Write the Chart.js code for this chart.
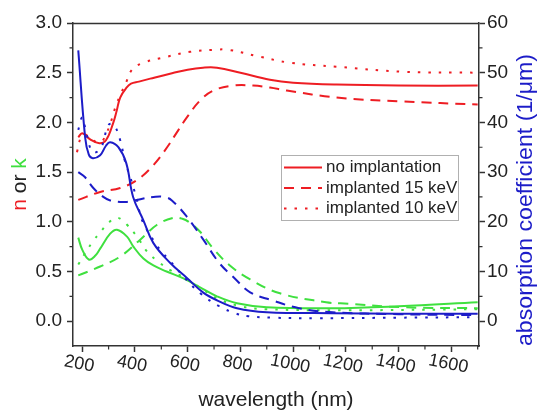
<!DOCTYPE html>
<html><head><meta charset="utf-8">
<script src="https://cdn.jsdelivr.net/npm/chart.js@4/dist/chart.umd.min.js"></script>
<style>html,body{margin:0;padding:0;background:#fff}canvas{display:block}</style>
</head><body>
<canvas id="c" width="538" height="412"></canvas>
<script>
// ---- data (wavelength in nm) ----
const legendLabels = ['no implantation', 'implanted 15 keV', 'implanted 10 keV'];
const xTickValues = [200, 400, 600, 800, 1000, 1200, 1400, 1600];

// refractive index n (left axis)
const nNoneWl = [185,200,230,265,290,317,331,344,368,385,415,458,533,600,658,711,800,912,1000,1165,1400,1700];
const nNoneVal = [1.85,1.89,1.83,1.79,1.82,1.99,2.12,2.25,2.35,2.39,2.41,2.44,2.49,2.53,2.55,2.55,2.50,2.43,2.40,2.38,2.37,2.37];
const n15Wl = [185,268,344,408,470,522,564,597,647,697,773,848,912,976,1165,1416,1700];
const n15Val = [1.22,1.30,1.34,1.42,1.57,1.75,1.92,2.05,2.22,2.32,2.37,2.37,2.35,2.32,2.25,2.21,2.18];
const n10Wl = [180,195,210,240,270,290,308,328,347,366,389,432,520,609,697,755,875,988,1165,1416,1700];
const n10Val = [1.70,1.85,1.88,1.82,1.80,1.88,2.00,2.17,2.29,2.40,2.53,2.60,2.66,2.71,2.73,2.73,2.66,2.60,2.56,2.51,2.50];

// extinction coefficient k (left axis)
const kNoneWl = [185,200,225,250,268,306,332,370,394,432,470,520,584,647,711,787,900,1150,1400,1700];
const kNoneVal = [0.84,0.72,0.62,0.66,0.73,0.88,0.92,0.85,0.75,0.63,0.56,0.50,0.43,0.34,0.25,0.18,0.14,0.13,0.15,0.19];
const k15Wl = [185,268,344,420,484,545,580,609,647,697,760,837,950,1125,1180,1416,1700];
const k15Val = [0.46,0.55,0.65,0.82,0.97,1.04,1.03,0.99,0.90,0.73,0.56,0.42,0.28,0.19,0.18,0.14,0.13];
const k10Wl = [185,210,240,270,300,329,350,370,408,446,488,530,600,650,720,800,900,1200,1700];
const k10Val = [0.57,0.68,0.80,0.90,0.99,1.04,1.02,0.97,0.85,0.70,0.60,0.52,0.42,0.33,0.22,0.15,0.12,0.11,0.12];

// absorption coefficient (right axis, 1/µm)
const aNoneWl = [185,211,225,240,268,290,306,337,367,393,432,470,534,597,658,711,787,900,1150,1400,1700];
const aNoneVal = [54.5,37,33.5,32.8,33.4,35.3,36.0,35.0,31.8,25,20.3,15.7,11.7,8.7,5.8,4.2,2.6,1.8,1.6,1.5,1.5];
const a15Wl = [185,210,242,280,306,370,432,470,510,540,597,658,720,773,837,920,1023,1150,1400,1700];
const a15Val = [30,29,26.8,25,24.3,24,24.7,25,25,24.3,21,16.5,11.7,8.9,5.8,4.2,2.6,1.8,1.4,1.2];
const a10Wl = [185,200,215,240,270,300,320,344,363,382,408,427,477,503,530,556,585,650,720,780,830,920,1100,1400,1700];
const a10Val = [38.5,41,38,34,34.8,39.5,39.5,36.4,32,29,24.3,20.3,15.7,13.9,12.3,10.7,8.9,5.5,3.0,1.6,1.0,0.7,0.6,0.7,0.8];

// ---- styling ----
const FONT = '"Liberation Sans", Arial, Helvetica, sans-serif';
const RED = '#ee1d23', BLUE = '#1c1cc8', GREEN = '#3fe03f', AX = '#333333', TXT = '#222222';
const SOLID = [], DASH = [10, 7], DOT = [2.5, 8];

function pts(xs, ys) { return xs.map((x, i) => ({ x: x, y: ys[i] })); }
function ds(label, xs, ys, color, dash, axis) {
  return { label, data: pts(xs, ys), borderColor: color, backgroundColor: color,
    borderWidth: 2, borderDash: dash, pointRadius: 0, tension: 0.4,
    yAxisID: axis, fill: false };
}

const datasets = [
  ds('a none', aNoneWl, aNoneVal, BLUE, SOLID, 'y1'),
  ds('a 15', a15Wl, a15Val, BLUE, DASH, 'y1'),
  ds('a 10', a10Wl, a10Val, BLUE, DOT, 'y1'),
  ds(legendLabels[0], nNoneWl, nNoneVal, RED, SOLID, 'y'),
  ds(legendLabels[1], n15Wl, n15Val, RED, DASH, 'y'),
  ds(legendLabels[2], n10Wl, n10Val, RED, DOT, 'y'),
  ds('k none', kNoneWl, kNoneVal, GREEN, SOLID, 'y'),
  ds('k 15', k15Wl, k15Val, GREEN, DASH, 'y'),
  ds('k 10', k10Wl, k10Val, GREEN, DOT, 'y')
];

const decor = {
  id: 'decor',
  afterDraw(chart) {
    const ctx = chart.ctx, ca = chart.chartArea;
    const sx = chart.scales.x, sy = chart.scales.y, sy1 = chart.scales.y1;
    ctx.save();
    // top frame line
    ctx.strokeStyle = AX; ctx.lineWidth = 1.5; ctx.setLineDash([]);
    ctx.beginPath(); ctx.moveTo(ca.left, ca.top + 0.5); ctx.lineTo(ca.right, ca.top + 0.5); ctx.stroke();
    // minor ticks
    ctx.lineWidth = 1.2;
    ctx.beginPath();
    for (let v = 300; v <= 1700; v += 200) { const p = sx.getPixelForValue(v); ctx.moveTo(p, ca.bottom); ctx.lineTo(p, ca.bottom + 3.5); }
    for (let v = 0.25; v < 3; v += 0.5) { const p = sy.getPixelForValue(v); ctx.moveTo(ca.left, p); ctx.lineTo(ca.left - 3.5, p); }
    for (let v = 5; v < 60; v += 10) { const p = sy1.getPixelForValue(v); ctx.moveTo(ca.right, p); ctx.lineTo(ca.right + 3.5, p); }
    ctx.stroke();
    // x tick labels (rotated clockwise)
    ctx.fillStyle = TXT; ctx.font = '18px ' + FONT; ctx.textAlign = 'center'; ctx.textBaseline = 'middle';
    xTickValues.forEach(v => {
      const p = sx.getPixelForValue(v);
      ctx.save(); ctx.translate(p - 3, 364); ctx.rotate(11 * Math.PI / 180); ctx.fillText(String(v), 0, 0); ctx.restore();
    });
    // x title
    ctx.font = '21px ' + FONT; ctx.fillStyle = TXT;
    ctx.fillText('wavelength (nm)', 276, 400);
    // left title: "n or k" multicolor
    ctx.save();
    ctx.translate(20, (ca.top + ca.bottom) / 2); ctx.rotate(-Math.PI / 2);
    ctx.font = '21px ' + FONT; ctx.textBaseline = 'middle'; ctx.textAlign = 'left';
    const parts = [['n', RED], [' or ', TXT], ['k', GREEN]];
    const total = parts.reduce((s, p) => s + ctx.measureText(p[0]).width, 0);
    let cx = -total / 2;
    parts.forEach(p => { ctx.fillStyle = p[1]; ctx.fillText(p[0], cx, 0); cx += ctx.measureText(p[0]).width; });
    ctx.restore();
    // right title
    ctx.save();
    ctx.translate(526, 200); ctx.rotate(-Math.PI / 2);
    ctx.font = '22px ' + FONT; ctx.fillStyle = BLUE; ctx.textAlign = 'center'; ctx.textBaseline = 'middle';
    const rt = 'absorption coefficient (1/\u03bcm)';
    const w = ctx.measureText(rt).width;
    ctx.scale(292 / w, 1);
    ctx.fillText(rt, 0, 0);
    ctx.restore();
    // legend
    ctx.strokeStyle = '#b0b0b0'; ctx.lineWidth = 1; ctx.setLineDash([]);
    ctx.strokeRect(281.5, 155.5, 177, 65);
    const dashes = [SOLID, DASH, DOT];
    ctx.font = '17px ' + FONT; ctx.textAlign = 'left'; ctx.textBaseline = 'middle';
    legendLabels.forEach((lab, i) => {
      const y = 167.5 + i * 20.5;
      ctx.strokeStyle = RED; ctx.lineWidth = 2; ctx.setLineDash(dashes[i]);
      ctx.beginPath(); ctx.moveTo(284, y); ctx.lineTo(322, y); ctx.stroke();
      ctx.setLineDash([]);
      ctx.fillStyle = TXT; ctx.fillText(lab, 326, y);
    });
    ctx.restore();
  }
};

const gridOpts = { drawOnChartArea: false, drawTicks: true, tickLength: 6, tickWidth: 1.5, tickColor: AX };
const borderOpts = { display: true, color: AX, width: 1.5 };

new Chart(document.getElementById('c'), {
  type: 'line',
  data: { datasets },
  options: {
    responsive: false, animation: false, devicePixelRatio: 1,
    layout: { padding: { top: 23, left: 0, right: 0, bottom: 0 } },
    plugins: { legend: { display: false }, tooltip: { enabled: false } },
    scales: {
      x: { type: 'linear', position: 'bottom', min: 165, max: 1705,
        afterFit: s => { s.height = 66; },
        ticks: { stepSize: 200, includeBounds: false, display: false },
        grid: gridOpts, border: borderOpts },
      y: { type: 'linear', position: 'left', min: -0.25, max: 3.0,
        afterFit: s => { s.width = 73; },
        ticks: { stepSize: 0.5, includeBounds: false, padding: 5, color: TXT,
          font: { family: FONT, size: 19 }, callback: v => Number(v).toFixed(1) },
        grid: gridOpts, border: borderOpts },
      y1: { type: 'linear', position: 'right', min: -5, max: 60,
        afterFit: s => { s.width = 59; },
        ticks: { stepSize: 10, includeBounds: false, padding: 2, color: TXT,
          font: { family: FONT, size: 19 }, callback: v => String(v) },
        grid: gridOpts, border: borderOpts }
    }
  },
  plugins: [decor]
});
</script></body></html>
